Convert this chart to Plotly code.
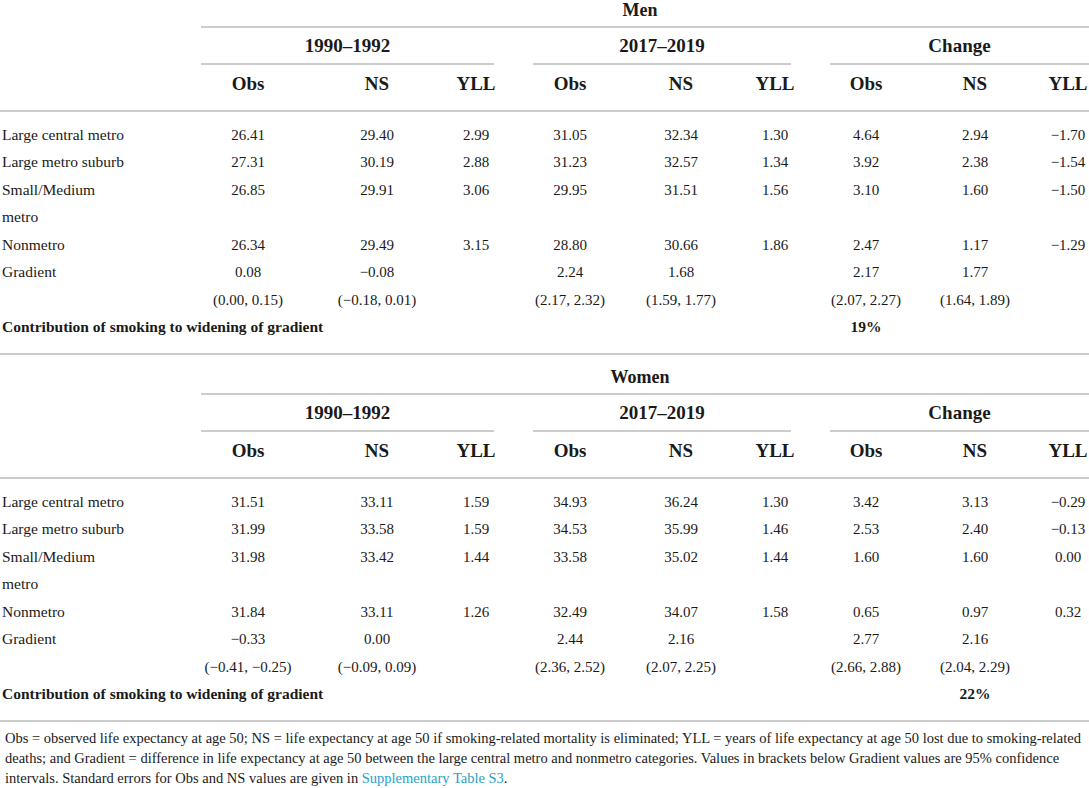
import plotly.graph_objects as go

# ---- table content -------------------------------------------------------
periods = ["1990–1992", "2017–2019", "Change"]
measures = ["Obs", "NS", "YLL"]
regions = ["Large central metro", "Large metro suburb", "Small/Medium metro", "Nonmetro"]

men_1990_obs = [26.41, 27.31, 26.85, 26.34]
men_1990_ns = [29.40, 30.19, 29.91, 29.49]
men_1990_yll = [2.99, 2.88, 3.06, 3.15]
men_2017_obs = [31.05, 31.23, 29.95, 28.80]
men_2017_ns = [32.34, 32.57, 31.51, 30.66]
men_2017_yll = [1.30, 1.34, 1.56, 1.86]
men_change_obs = [4.64, 3.92, 3.10, 2.47]
men_change_ns = [2.94, 2.38, 1.60, 1.17]
men_change_yll = [-1.70, -1.54, -1.50, -1.29]
men_gradient_obs = [0.08, 2.24, 2.17]
men_gradient_ns = [-0.08, 1.68, 1.77]
men_ci_obs = [(0.00, 0.15), (2.17, 2.32), (2.07, 2.27)]
men_ci_ns = [(-0.18, 0.01), (1.59, 1.77), (1.64, 1.89)]
men_contribution = "19%"

women_1990_obs = [31.51, 31.99, 31.98, 31.84]
women_1990_ns = [33.11, 33.58, 33.42, 33.11]
women_1990_yll = [1.59, 1.59, 1.44, 1.26]
women_2017_obs = [34.93, 34.53, 33.58, 32.49]
women_2017_ns = [36.24, 35.99, 35.02, 34.07]
women_2017_yll = [1.30, 1.46, 1.44, 1.58]
women_change_obs = [3.42, 2.53, 1.60, 0.65]
women_change_ns = [3.13, 2.40, 1.60, 0.97]
women_change_yll = [-0.29, -0.13, 0.00, 0.32]
women_gradient_obs = [-0.33, 2.44, 2.77]
women_gradient_ns = [0.00, 2.16, 2.16]
women_ci_obs = [(-0.41, -0.25), (2.36, 2.52), (2.66, 2.88)]
women_ci_ns = [(-0.09, 0.09), (2.07, 2.25), (2.04, 2.29)]
women_contribution = "22%"

contribution_label = "Contribution of smoking to widening of gradient"

footnote_lines = [
    "Obs = observed life expectancy at age 50; NS = life expectancy at age 50 if smoking-related "
    "mortality is eliminated; YLL = years of life expectancy at age 50 lost due to smoking-related",
    "deaths; and Gradient = difference in life expectancy at age 50 between the large central metro "
    "and nonmetro categories. Values in brackets below Gradient values are 95% confidence",
    "intervals. Standard errors for Obs and NS values are given in ",
]
footnote_link = "Supplementary Table S3"

# ---- look ------------------------------------------------------------------
W, H = 1089, 788
FONT = "Liberation Serif"
INK = "#1a1a1a"
RULE = "#cccccc"
LINK = "#1fa3c9"
FS = 15        # body cells
FS_HEAD = 19   # column / group headers

COL_X = [[248, 377, 476], [570, 681, 775], [866, 975, 1068]]
GROUP_SPAN = [(201, 494), (533, 791), (830, 1089)]
ROW_Y = [136, 163.5, 191, 218.5, 246, 273.5, 301, 328]
VALUE_SLOTS = [0, 1, 2, 4]


def fmt(v):
    return f"{v:.2f}".replace("-", "\u2212")


def fmt_ci(ci):
    return f"({fmt(ci[0])}, {fmt(ci[1])})"


panels = [
    dict(title="Men", offset=0, contrib=men_contribution, contrib_col=0,
         values=[[men_1990_obs, men_1990_ns, men_1990_yll],
                 [men_2017_obs, men_2017_ns, men_2017_yll],
                 [men_change_obs, men_change_ns, men_change_yll]],
         grad=[men_gradient_obs, men_gradient_ns], ci=[men_ci_obs, men_ci_ns]),
    dict(title="Women", offset=367, contrib=women_contribution, contrib_col=1,
         values=[[women_1990_obs, women_1990_ns, women_1990_yll],
                 [women_2017_obs, women_2017_ns, women_2017_yll],
                 [women_change_obs, women_change_ns, women_change_yll]],
         grad=[women_gradient_obs, women_gradient_ns], ci=[women_ci_obs, women_ci_ns]),
]

fig = go.Figure()
shapes = []


def add_text(xs, ys, texts, pos="middle center", size=FS):
    fig.add_trace(go.Scatter(
        x=xs, y=ys, text=texts, mode="text", textposition=pos, cliponaxis=False,
        textfont=dict(family=FONT, size=size, color=INK),
        hoverinfo="skip", showlegend=False,
    ))


def hline(x0, x1, y):
    shapes.append(dict(type="line", xref="x", yref="y", x0=x0, x1=x1, y0=y, y1=y,
                       line=dict(color=RULE, width=1.8)))


for p in panels:
    off = p["offset"]
    rows = [y + off for y in ROW_Y]

    # headers
    add_text([640], [11.5 + off], [f"<b>{p['title']}</b>"], size=18)
    hline(201, W, 27 + off)
    for g, name in enumerate(periods):
        a, b = GROUP_SPAN[g]
        add_text([(a + b) / 2], [47 + off], [f"<b>{name}</b>"], size=FS_HEAD)
        hline(a, b, 64 + off)
        add_text(COL_X[g], [85 + off] * 3, [f"<b>{m}</b>" for m in measures], size=FS_HEAD)
    hline(0, W, 111 + off)

    # row labels
    lab_y, lab_t = [], []
    for slot, name in zip(VALUE_SLOTS, regions):
        if name.startswith("Small/Medium"):
            first, rest = name.split(" ", 1)
            lab_y += [rows[slot], rows[slot + 1]]
            lab_t += [first, rest]
        else:
            lab_y.append(rows[slot])
            lab_t.append(name)
    lab_y.append(rows[5])
    lab_t.append("Gradient")
    lab_y.append(rows[7])
    lab_t.append(f"<b>{contribution_label}</b>")
    add_text([2] * len(lab_y), lab_y, lab_t, pos="middle right", size=15.5)

    # body cells
    for g in range(3):
        for m in range(3):
            vals = p["values"][g][m]
            ys = [rows[s] for s in VALUE_SLOTS]
            txt = [fmt(v) for v in vals]
            if m < 2:
                ys += [rows[5], rows[6]]
                txt += [fmt(p["grad"][m][g]), fmt_ci(p["ci"][m][g])]
            add_text([COL_X[g][m]] * len(ys), ys, txt)

    add_text([COL_X[2][p["contrib_col"]]], [rows[7]], [f"<b>{p['contrib']}</b>"], size=15.5)
    hline(0, W, 354 + off)

# footnote
annotations = []
for i, line in enumerate(footnote_lines):
    text = line
    if i == len(footnote_lines) - 1:
        text += f"<span style='color:{LINK}'>{footnote_link}</span>."
    annotations.append(dict(
        x=3, y=738 + 20 * i, xref="x", yref="y", text=text, showarrow=False,
        xanchor="left", yanchor="middle", align="left",
        font=dict(family=FONT, size=14.5, color=INK),
    ))

fig.update_layout(
    width=W, height=H, margin=dict(l=0, r=0, t=0, b=0),
    paper_bgcolor="white", plot_bgcolor="white",
    xaxis=dict(range=[0, W], visible=False, fixedrange=True),
    yaxis=dict(range=[H, 0], visible=False, fixedrange=True),
    shapes=shapes, annotations=annotations,
)

# the page's default body margin would push the 1089x788 figure off the window
fig.write_html("out.html", config={"displayModeBar": False},
               post_script="document.body.style.margin='0';")
